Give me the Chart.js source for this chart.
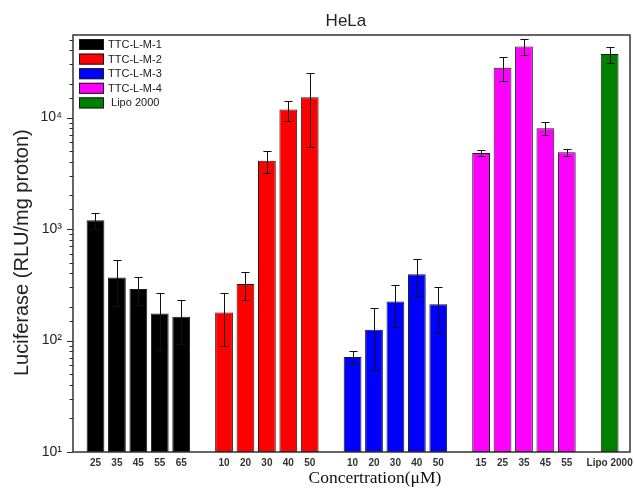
<!DOCTYPE html>
<html>
<head>
<meta charset="utf-8">
<script src="https://cdn.jsdelivr.net/npm/chart.js@4/dist/chart.umd.min.js"></script>
<style>
  html, body { margin: 0; padding: 0; background: #fff; }
  #wrap { width: 634px; height: 488px; position: relative; }
</style>
</head>
<body>
<div id="wrap"><canvas id="c"></canvas></div>
<script>
// Series names and colours
const seriesNames = ['TTC-L-M-1', 'TTC-L-M-2', 'TTC-L-M-3', 'TTC-L-M-4', ' Lipo 2000'];
const seriesColors = ['#000000', '#ff0000', '#0000ff', '#ff00ff', '#008000'];

// Concentrations (µM) and luciferase expression (RLU/mg protein) with error bars
const m1Labels = ['25', '35', '45', '55', '65'];
const m1Values = [1200, 368, 290, 175, 163];
const m1Errors = [200, 163, 83, 93, 69];

const m2Labels = ['10', '20', '30', '40', '50'];
const m2Values = [178, 321, 4100, 11800, 15200];
const m2Errors = [89, 90, 900, 2400, 9800];

const m3Labels = ['10', '20', '30', '40', '50'];
const m3Values = [71, 125, 224, 392, 211];
const m3Errors = [9.5, 71, 91, 141, 94];

const m4Labels = ['15', '25', '35', '45', '55'];
const m4Values = [4800, 28000, 43300, 8030, 4890];
const m4Errors = [320, 6600, 7100, 1100, 340];

const lipoLabels = ['Lipo 2000'];
const lipoValues = [37100];
const lipoErrors = [6100];

// Labelled decades of the log axis
const yTickValues = [10, 100, 1000, 10000];
const yTickLabels = ['10\u00B9', '10\u00B2', '10\u00B3', '10\u2074'];

const chartTitle = 'HeLa';
const xTitle = 'Concertration(\u03BCM)';
const yTitle = 'Luciferase (RLU/mg proton)';

// Lay the groups out on consecutive slots, leaving one empty slot between groups
const groups = [
  { labels: m1Labels, values: m1Values, errors: m1Errors },
  { labels: m2Labels, values: m2Values, errors: m2Errors },
  { labels: m3Labels, values: m3Values, errors: m3Errors },
  { labels: m4Labels, values: m4Values, errors: m4Errors },
  { labels: lipoLabels, values: lipoValues, errors: lipoErrors }
];
let slot = 0;
const tickSlots = [];
const tickText = [];
const datasets = groups.map((g, k) => {
  const data = g.values.map((v, i) => {
    tickSlots.push(slot);
    tickText.push(g.labels[i]);
    return { x: slot++, y: v };
  });
  slot++;
  return {
    label: seriesNames[k],
    data: data,
    errors: g.errors,
    backgroundColor: seriesColors[k],
    borderColor: '#1a1a1a',
    borderWidth: 1,
    borderSkipped: false
  };
});

const SANS = 'Arial, "Liberation Sans", Helvetica, sans-serif';
const SERIF = '"Times New Roman", "Liberation Serif", Times, serif';

// Error bars, frame, log tick marks, legend and titles
const decorations = {
  id: 'decorations',
  afterDatasetsDraw(chart) {
    const ctx = chart.ctx;
    const ys = chart.scales.y;
    ctx.save();
    ctx.strokeStyle = '#111';
    ctx.lineWidth = 1;
    chart.data.datasets.forEach((ds, di) => {
      const meta = chart.getDatasetMeta(di);
      meta.data.forEach((bar, j) => {
        const v = ds.data[j].y;
        const e = ds.errors[j];
        const yTop = Math.round(ys.getPixelForValue(v + e)) + 0.5;
        const yBot = Math.round(ys.getPixelForValue(v - e)) + 0.5;
        const x = Math.round(bar.x) + 0.5;
        const half = bar.width * 0.23;
        ctx.beginPath();
        ctx.moveTo(x, yTop); ctx.lineTo(x, yBot);
        ctx.moveTo(x - half, yTop); ctx.lineTo(x + half, yTop);
        ctx.moveTo(x - half, yBot); ctx.lineTo(x + half, yBot);
        ctx.stroke();
      });
    });
    ctx.restore();
  },
  afterDraw(chart) {
    const ctx = chart.ctx;
    const a = chart.chartArea;
    const ys = chart.scales.y;
    ctx.save();

    // tick marks on the log axis: long for decades, short for the rest
    ctx.strokeStyle = '#2a2a2a';
    ctx.lineWidth = 1;
    ys.ticks.forEach(t => {
      const py = ys.getPixelForValue(t.value);
      if (py < a.top + 1) return;
      const len = yTickValues.includes(t.value) ? 6 : 3.5;
      const yy = Math.round(py) + 0.5;
      ctx.beginPath();
      ctx.moveTo(a.left - len, yy);
      ctx.lineTo(a.left, yy);
      ctx.stroke();
    });

    // plot frame
    ctx.strokeStyle = '#333';
    ctx.lineWidth = 1.5;
    ctx.strokeRect(a.left, a.top, a.right - a.left, a.bottom - a.top);

    // legend inside the top-left corner
    ctx.font = '11px ' + SANS;
    ctx.textBaseline = 'middle';
    ctx.textAlign = 'left';
    chart.data.datasets.forEach((ds, i) => {
      const top = a.top + 4 + i * 14.6;
      ctx.fillStyle = ds.backgroundColor;
      ctx.fillRect(a.left + 6, top, 25, 11);
      ctx.strokeStyle = '#1a1a1a';
      ctx.lineWidth = 1;
      ctx.strokeRect(a.left + 6.5, top + 0.5, 24, 10);
      ctx.fillStyle = '#1a1a1a';
      ctx.fillText(ds.label, a.left + 35, top + 6);
    });

    // chart title
    ctx.font = '17px ' + SANS;
    ctx.fillStyle = '#222';
    ctx.textAlign = 'center';
    ctx.fillText(chartTitle, a.left + (a.right - a.left) * 0.49, a.top - 14);

    // x axis title
    ctx.font = '17.5px ' + SERIF;
    ctx.fillStyle = '#111';
    ctx.fillText(xTitle, a.left + (a.right - a.left) * 0.542, 478);

    // y axis title, rotated
    ctx.save();
    ctx.translate(22, a.top + (a.bottom - a.top) * 0.522);
    ctx.rotate(-Math.PI / 2);
    ctx.font = '20px ' + SANS;
    ctx.fillStyle = '#222';
    ctx.fillText(yTitle, 0, 0);
    ctx.restore();

    ctx.restore();
  }
};

new Chart(document.getElementById('c'), {
  type: 'bar',
  data: { datasets: datasets },
  options: {
    responsive: true,
    maintainAspectRatio: false,
    animation: false,
    devicePixelRatio: 1,
    layout: { padding: { top: 35, right: 4, bottom: 0, left: 0 } },
    datasets: { bar: { grouped: false, categoryPercentage: 1, barPercentage: 0.83 } },
    plugins: {
      legend: { display: false },
      title: { display: false },
      tooltip: { enabled: false }
    },
    scales: {
      x: {
        type: 'linear',
        offset: false,
        min: -1.05,
        max: slot - 1.05,
        grid: { display: false, drawTicks: false, offset: false },
        border: { display: false },
        afterBuildTicks(s) { s.ticks = tickSlots.map(v => ({ value: v })); },
        afterFit(s) { s.height = 36; s.paddingLeft = 0; s.paddingRight = 0; },
        ticks: {
          autoSkip: false,
          maxRotation: 0,
          minRotation: 0,
          padding: 5,
          color: '#333',
          font: { family: SANS, size: 10, weight: 'bold' },
          callback(v) {
            const i = tickSlots.indexOf(v);
            return i < 0 ? '' : tickText[i];
          }
        }
      },
      y: {
        type: 'logarithmic',
        min: 10,
        max: 55000,
        grid: { display: false, drawTicks: false },
        border: { display: false },
        afterFit(s) { s.width = 73; s.paddingTop = 0; s.paddingBottom = 0; },
        ticks: {
          autoSkip: false,
          padding: 11,
          color: '#222',
          font: { family: SANS, size: 14 },
          callback(v) {
            const i = yTickValues.indexOf(v);
            return i < 0 ? '' : yTickLabels[i];
          }
        }
      }
    }
  },
  plugins: [decorations]
});
</script>
</body>
</html>
